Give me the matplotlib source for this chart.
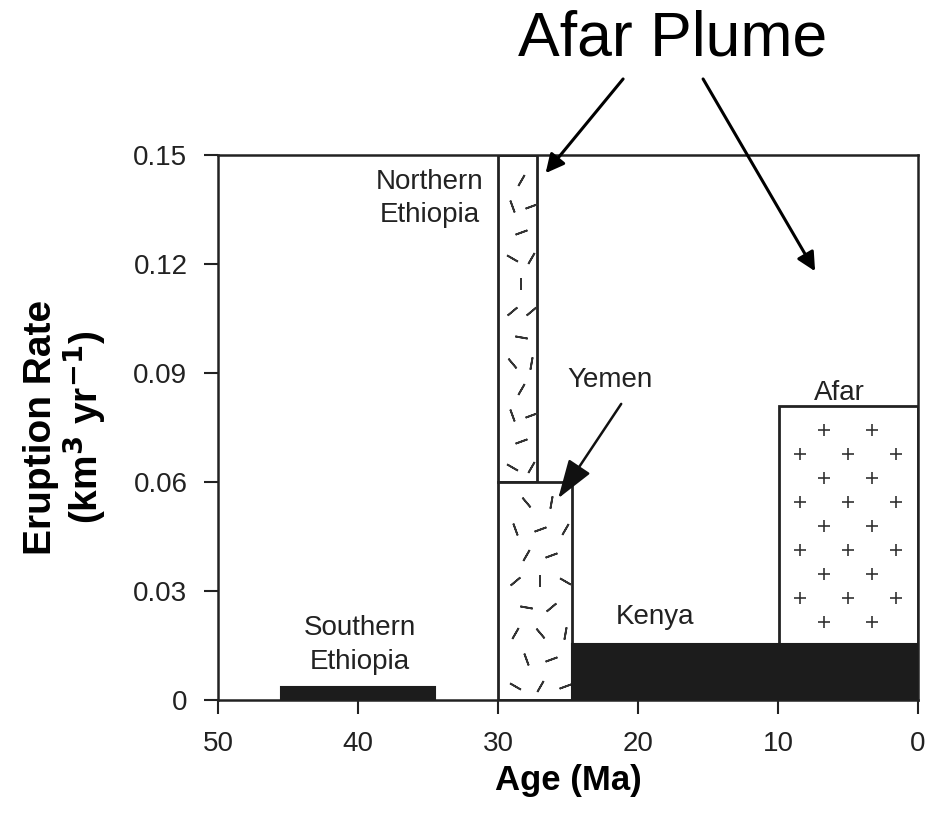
import matplotlib
matplotlib.use('Agg')
import matplotlib.pyplot as plt
from matplotlib.patches import Rectangle

plt.rcParams['font.family'] = ['Liberation Sans', 'DejaVu Sans']

# eruption episodes: (name, start Ma, end Ma, bottom rate, top rate)
names = ['Southern Ethiopia', 'Northern Ethiopia', 'Yemen', 'Kenya', 'Afar']
age_start = [45.5, 30.0, 30.0, 24.7, 9.9]
age_end = [34.5, 27.2, 24.7, 0.0, 0.0]
rate_low = [0.0, 0.06, 0.0, 0.0, 0.0155]
rate_high = [0.0035, 0.15, 0.06, 0.0155, 0.081]
fills = ['solid', 'dash', 'dash', 'solid', 'plus']

xticks = [50, 40, 30, 20, 10, 0]
yticks = [0, 0.03, 0.06, 0.09, 0.12, 0.15]
ytick_labels = ['0', '0.03', '0.06', '0.09', '0.12', '0.15']

fig = plt.figure(figsize=(9.3, 8.14), dpi=100)
ax = fig.add_axes([0.2344, 0.140, 0.7527, 0.6696])
ax.set_xlim(50, 0)
ax.set_ylim(0, 0.15)

dash_angles = [60, -30, 110, 20, -70, 150, 40, -10, 80, 130, -50, 0]

for i in range(len(names)):
    x0, x1 = age_end[i], age_start[i]
    y0, y1 = rate_low[i], rate_high[i]
    if fills[i] == 'solid':
        ax.add_patch(Rectangle((x0, y0), x1 - x0, y1 - y0, facecolor='#1c1c1c',
                               edgecolor='#1c1c1c', lw=1.5, zorder=3))
        continue
    ax.add_patch(Rectangle((x0, y0), x1 - x0, y1 - y0, facecolor='white',
                           edgecolor='#222222', lw=2, zorder=2))
    if fills[i] == 'dash':
        # texture of short dashes at many angles
        ncol = max(1, int(round((x1 - x0) / 1.6)))
        dx = (x1 - x0) / ncol
        k = 0
        row = 0
        yy = y0 + 0.004
        while yy < y1 - 0.002:
            for c in range(ncol):
                xx = x1 - dx * (c + 0.5) + (0.35 * dx if row % 2 else -0.2 * dx)
                if x0 + 0.3 < xx < x1 - 0.3:
                    ang = dash_angles[k % len(dash_angles)]
                    ax.plot([xx], [yy], marker=(2, 2, ang), ms=9, mew=1.3,
                            color='#333333', zorder=3, ls='none')
                    k += 1
            yy += 0.0072
            row += 1
    else:
        # staggered plus signs
        row = 0
        yy = y1 - 0.0066
        while yy > y0 + 0.003:
            cols = [8.4, 5.0, 1.6] if row % 2 else [6.7, 3.3]
            ax.plot(cols, [yy] * len(cols), marker='+', ms=9, mew=1.2,
                    color='#333333', ls='none', zorder=3)
            yy -= 0.0066
            row += 1

lab_kw = dict(fontsize=20, color='#222222', ha='center', va='center')
ax.text(39.9, 0.0198, 'Southern', **lab_kw)
ax.text(39.9, 0.0105, 'Ethiopia', **lab_kw)
ax.text(34.9, 0.1425, 'Northern', **lab_kw)
ax.text(34.9, 0.1335, 'Ethiopia', **lab_kw)
ax.text(18.8, 0.0228, 'Kenya', **lab_kw)
ax.text(5.6, 0.0845, 'Afar', **lab_kw)
ax.text(22.0, 0.0880, 'Yemen', **lab_kw)
ax.annotate('', xy=(25.7, 0.0555), xytext=(21.2, 0.0815),
            arrowprops=dict(arrowstyle='-|>,head_width=0.2,head_length=0.6',
                            mutation_scale=40, lw=1.8,
                            color='#111111', shrinkA=0, shrinkB=0), zorder=5)

ax.set_xticks(xticks)
ax.set_yticks(yticks)
ax.set_yticklabels(ytick_labels)
ax.tick_params(direction='out', length=10, width=1.5, labelsize=20,
               colors='#222222', pad=12, top=False, right=False)
for s in ax.spines.values():
    s.set_linewidth(1.8)
    s.set_color('#222222')

ax.set_xlabel('Age (Ma)', fontsize=25, fontweight='bold', labelpad=5)
ax.set_ylabel('Eruption Rate\n(km$^\\mathbf{3}$ yr$^\\mathbf{-1}$)', fontsize=28,
              fontweight='bold', labelpad=18, linespacing=1.05)

fig.text(0.723, 0.952, 'Afar Plume', fontsize=45, ha='center', va='center')
ax.annotate('', xy=(26.6, 0.145), xycoords='data', xytext=(0.670, 0.903),
            textcoords='figure fraction',
            arrowprops=dict(arrowstyle='-|>', mutation_scale=28, lw=2.2,
                            color='black', shrinkA=0, shrinkB=0),
            annotation_clip=False)
ax.annotate('', xy=(7.35, 0.118), xycoords='data', xytext=(0.756, 0.903),
            textcoords='figure fraction',
            arrowprops=dict(arrowstyle='-|>', mutation_scale=28, lw=2.2,
                            color='black', shrinkA=0, shrinkB=0),
            annotation_clip=False)

fig.savefig('out.png', dpi=100)
